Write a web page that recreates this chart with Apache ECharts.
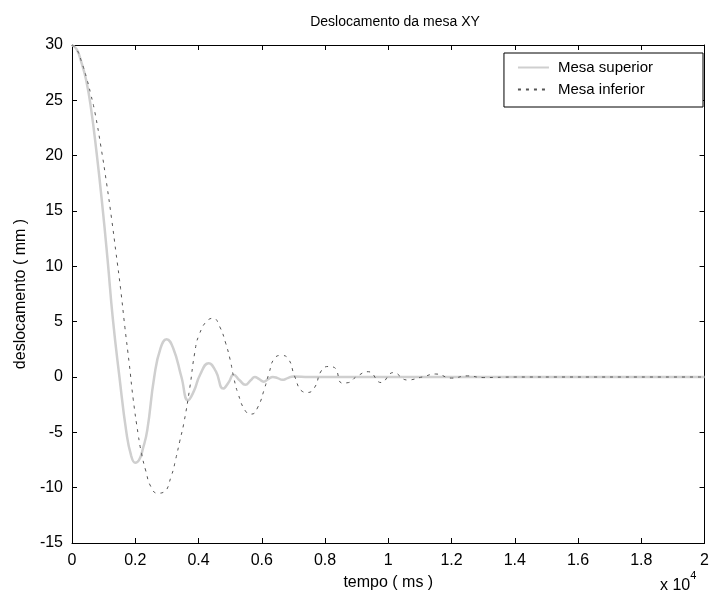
<!DOCTYPE html>
<html>
<head>
<meta charset="utf-8">
<script src="https://cdn.jsdelivr.net/npm/echarts@6/dist/echarts.min.js"></script>
<style>
  html, body { margin: 0; padding: 0; background: #fff; }
  #chart { width: 712px; height: 599px; }
</style>
</head>
<body>
<div id="chart"></div>
<script>
// tempo em ms (eixo x mostrado em unidades de 10^4)
var tSuperior = [0, 150, 300, 450, 600, 780, 970, 1125, 1290, 1500, 1720, 1870, 2000, 2120, 2240, 2380, 2600, 2800, 2990, 3200, 3460, 3670, 3850, 4050, 4320, 4550, 4780, 4950, 5110, 5300, 5480, 5650, 5780, 5920, 6060, 6200, 6350, 6500, 6650, 6820, 7000, 7500, 8500, 10000, 12000, 15000, 20000]
var ySuperior = [30, 29.6, 28.4, 26.8, 24.3, 20.2, 15.2, 10.6, 5.3, 0, -5, -7.1, -7.75, -7.5, -6.5, -4.8, 0, 2.6, 3.4, 2.6, 0, -2.1, -1.3, 0.2, 1.25, 0.5, -1.05, -0.5, 0.2, -0.3, -0.7, -0.3, 0, -0.2, -0.42, -0.2, 0, -0.1, -0.25, -0.1, 0.05, 0, 0, 0, 0, 0, 0]

var tInferior = [0, 150, 305, 463, 590, 725, 915, 1094, 1252, 1388, 1535, 1672, 1810, 1935, 2093, 2198, 2335, 2492, 2700, 2903, 3144, 3281, 3407, 3534, 3723, 3881, 4017, 4300, 4470, 4670, 4860, 5005, 5110, 5250, 5490, 5680, 5880, 6070, 6225, 6405, 6630, 6850, 7035, 7280, 7450, 7670, 7880, 8100, 8300, 8540, 8750, 8980, 9370, 9770, 10160, 10600, 11070, 11500, 12000, 12500, 13000, 14000, 20000]
var yInferior = [30, 29.6, 28.45, 27, 25.6, 23.9, 20.8, 17.5, 14.3, 11.3, 8, 4.5, 1.2, -2, -5.2, -6.9, -8.5, -9.9, -10.5, -10.4, -8.9, -7.4, -5.8, -4.2, -1, 2.2, 3.8, 5.15, 5.3, 4.55, 3.05, 1.5, 0, -1.5, -3.1, -3.35, -2.7, -1.2, 0.3, 1.7, 1.95, 1.6, 0.1, -1.3, -1.4, -0.95, 0.55, 0.95, 0.85, -0.55, -0.5, 0, 0.48, -0.5, 0.4, -0.27, 0, 0.27, -0.1, 0.1, -0.05, 0, 0]

var nomes = ['Mesa superior', 'Mesa inferior']
var fonte = 'Liberation Sans, Arial, sans-serif'

function pares(t, y) {
  return t.map(function (v, i) { return [v, y[i]] })
}

var chart = echarts.init(document.getElementById('chart'))

var eixoX = {
  type: 'value',
  min: 0,
  max: 20000,
  interval: 2000,
  axisLine: { show: true, onZero: false, lineStyle: { color: '#000', width: 1 } },
  axisTick: { show: true, inside: true, length: 5, lineStyle: { color: '#000' } },
  splitLine: { show: false }
}
var eixoY = {
  type: 'value',
  min: -15,
  max: 30,
  interval: 5,
  axisLine: { show: true, onZero: false, lineStyle: { color: '#000', width: 1 } },
  axisTick: { show: true, inside: true, length: 5, lineStyle: { color: '#000' } },
  splitLine: { show: false }
}

chart.setOption({
  animation: false,
  backgroundColor: '#fff',
  textStyle: { fontFamily: fonte },
  title: {
    text: 'Deslocamento da mesa XY',
    left: 390,
    top: 10,
    textAlign: 'center',
    textStyle: { fontSize: 14, fontWeight: 'normal', color: '#000', fontFamily: fonte }
  },
  legend: {
    data: nomes,
    orient: 'vertical',
    right: 9,
    top: 53,
    padding: [7, 50, 10, 13],
    itemGap: 7,
    itemWidth: 31,
    itemHeight: 14,
    backgroundColor: '#fff',
    borderColor: '#000',
    borderWidth: 1,
    borderRadius: 0,
    itemStyle: { color: 'transparent', borderWidth: 0, opacity: 0 },
    textStyle: { fontSize: 15, color: '#000', fontFamily: fonte, padding: [0, 0, 0, 4] }
  },
  grid: { left: 72, right: 6, top: 45, bottom: 56 },
  xAxis: [
    Object.assign({}, eixoX, {
      position: 'bottom',
      name: 'tempo ( ms )',
      nameLocation: 'middle',
      nameGap: 32,
      nameTextStyle: { fontSize: 16, color: '#000', fontFamily: fonte },
      axisLabel: {
        fontSize: 16, color: '#000', margin: 10, fontFamily: fonte,
        formatter: function (v) { return String(v / 10000) }
      }
    }),
    Object.assign({}, eixoX, { position: 'top', axisLabel: { show: false } })
  ],
  yAxis: [
    Object.assign({}, eixoY, {
      position: 'left',
      name: 'deslocamento ( mm )',
      nameLocation: 'middle',
      nameGap: 42,
      nameTextStyle: { fontSize: 16, color: '#000', fontFamily: fonte },
      axisLabel: { fontSize: 16, color: '#000', margin: 9, fontFamily: fonte }
    }),
    Object.assign({}, eixoY, { position: 'right', axisLabel: { show: false } })
  ],
  graphic: [
    {
      type: 'text',
      left: 660,
      top: 570,
      style: {
        text: '{b|x 10}{s|4}',
        rich: {
          b: { fontSize: 16, fontFamily: fonte, fill: '#000', padding: [8, 0, 0, 0] },
          s: { fontSize: 11, fontFamily: fonte, fill: '#000', verticalAlign: 'top' }
        }
      }
    }
  ],
  series: [
    {
      name: nomes[0],
      type: 'line',
      smooth: true,
      symbol: 'none',
      data: pares(tSuperior, ySuperior),
      lineStyle: { color: '#cfcfcf', width: 2.5 },
      itemStyle: { color: '#cfcfcf' },
      z: 2
    },
    {
      name: nomes[1],
      type: 'line',
      smooth: true,
      symbol: 'none',
      data: pares(tInferior, yInferior),
      lineStyle: { color: '#555', width: 1, type: [3, 5] },
      itemStyle: { color: '#555' },
      z: 3
    }
  ]
})
</script>
</body>
</html>
